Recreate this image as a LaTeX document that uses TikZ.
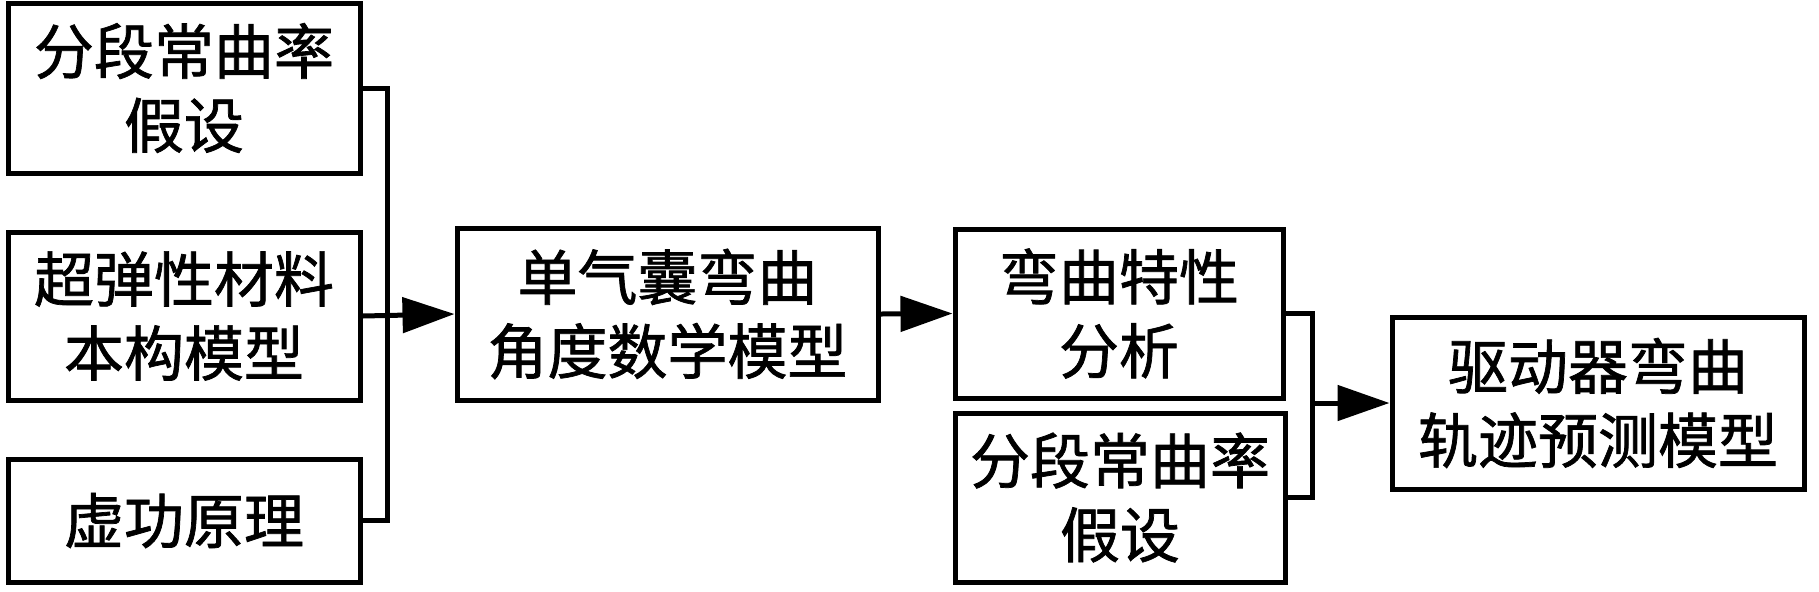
\documentclass[tikz,border=0pt]{standalone}
\usepackage{fontspec}
\newfontfamily\cjk[FakeBold=1.2]{Noto Sans CJK SC}
\usetikzlibrary{arrows.meta}
\begin{document}
\begin{tikzpicture}[x=0.5pt,y=-0.5pt,
  box/.style={draw, line width=2.5pt, inner sep=0pt, align=center,
    font=\cjk\fontsize{30pt}{37pt}\selectfont},
  conn/.style={line width=2.5pt},
  arr/.style={conn, -{Triangle[length=26pt,width=17.5pt]}}]
\useasboundingbox (0,0) rectangle (1819,591);
\node[box, minimum width=176pt, minimum height=85pt] (b1) at (184,88) {分段常曲率\\假设};
\node[box, minimum width=176pt, minimum height=84pt] (b2) at (184,316) {超弹性材料\\本构模型};
\node[box, minimum width=176pt, minimum height=61.5pt] (b3) at (184,520.5) {虚功原理};
\node[box, minimum width=210.5pt, minimum height=86pt] (b4) at (667.5,314) {单气囊弯曲\\角度数学模型};
\node[box, minimum width=164pt, minimum height=84.5pt] (b5) at (1119,313.5) {弯曲特性\\分析};
\node[box, minimum width=165pt, minimum height=84.5pt] (b6) at (1120,497.5) {分段常曲率\\假设};
\node[box, minimum width=206pt, minimum height=86pt] (b7) at (1598,403) {驱动器弯曲\\轨迹预测模型};
\draw[conn] (b1.east) -- ++(25,0) |- (b3.east);
\draw[arr] (b2.east) -- (b4.west);
\draw[arr] (b4.east) -- (b5.west);
\draw[conn] (b5.east) -- ++(27,0) |- (b6.east);
\coordinate (j2) at (1311,403);
\draw[arr] (j2) -- (b7.west);
\end{tikzpicture}
\end{document}
